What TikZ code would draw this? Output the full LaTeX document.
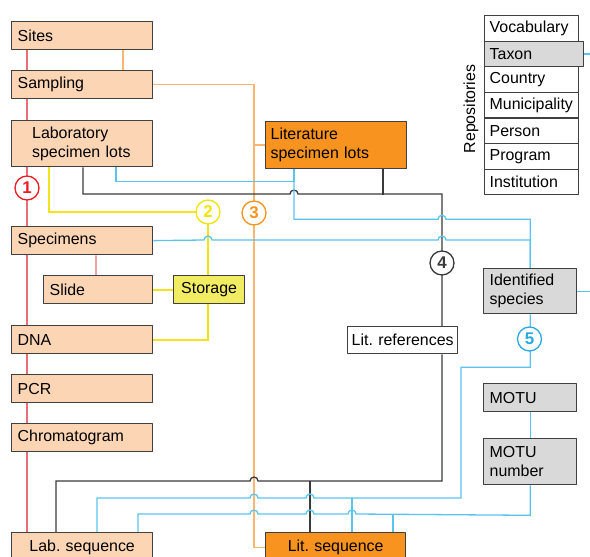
\documentclass[tikz,border=0pt]{standalone}
\usepackage{fontspec}
\setmainfont{Liberation Sans}
\usepackage{tikz}
\usetikzlibrary{backgrounds}
\frenchspacing

\definecolor{peach}{HTML}{FCD5B5}
\definecolor{litorange}{HTML}{F7931E}
\definecolor{storeyellow}{HTML}{F2EC63}
\definecolor{repogray}{HTML}{D9D9D9}
\definecolor{boxline}{HTML}{404040}
\definecolor{redline}{HTML}{EB6E76}
\definecolor{orangeline}{HTML}{F9B572}
\definecolor{yellowline}{HTML}{F2E31A}
\definecolor{blueline}{HTML}{5AC3EE}
\definecolor{blackline}{HTML}{3A3A3A}
\definecolor{numred}{HTML}{ED1C24}
\definecolor{numyellow}{HTML}{F2E500}
\definecolor{numorange}{HTML}{F7941D}
\definecolor{numblue}{HTML}{29ABE2}

\begin{document}
\begin{tikzpicture}[
		x = 1bp, y = -1bp, % one unit per pixel, y pointing down
		line join = round,
		font = \fontsize{16}{19.5}\selectfont
		]
		
		\tikzstyle{box}=[
		draw = boxline,
		line width = 1.3bp,
		anchor = north west,
		inner xsep = 6bp,
		inner ysep = 0bp,
		minimum height = 28bp,
		align = left
		]
		\tikzstyle{labbox}=[box, fill = peach, text width = 129bp]
		\tikzstyle{litbox}=[box, fill = litorange]
		\tikzstyle{greybox}=[box, fill = repogray, text width = 81bp]
		\tikzstyle{repobox}=[box, fill = white, inner xsep = 5bp, text width = 84bp, minimum height = 25.6bp]
		\tikzstyle{num}=[
		circle,
		fill = white,
		line width = 1.3bp,
		minimum size = 24bp,
		inner sep = 0bp,
		font = \fontsize{17}{17}\selectfont\bfseries
		]
		\tikzstyle{link}=[line width = 1.3bp]
		\tikzstyle{redlink}=[link, draw = redline]
		\tikzstyle{oralink}=[link, draw = orangeline]
		\tikzstyle{yellink}=[link, draw = yellowline, line width = 1.8bp]
		\tikzstyle{blulink}=[link, draw = blueline]
		\tikzstyle{blklink}=[link, draw = blackline]
		
		\useasboundingbox (0,0) rectangle (590,557);
		\clip (0,0) rectangle (590,557);
		\coordinate (edge) at (590,0);
		
		% laboratory side
		\node[labbox] (sites) at (11,21) {Sites};
		\node[labbox] (sampling) at (11,70) {Sampling};
		\node[labbox, text width = 100bp, minimum width = 141bp, minimum height = 46bp] (lablots) at (11,120) {Laboratory\\specimen lots};
		\node[labbox] (specimens) at (11,226) {Specimens};
		\node[labbox, text width = 97bp] (slide) at (43,275) {Slide};
		\node[box, fill = storeyellow, text width = 59bp, align = center] (storage) at (173,275) {Storage};
		\node[labbox] (dna) at (11,325) {DNA};
		\node[labbox] (pcr) at (11,374) {PCR};
		\node[labbox] (chromato) at (11,423) {Chromatogram};
		\node[labbox, align = center, minimum height = 30bp] (labseq) at (11,532) {Lab. sequence};
		
		% literature side
		\node[litbox, inner xsep = 5bp, text width = 131bp, minimum height = 47bp] (litlots) at (265,121) {Literature\\specimen lots};
		\node[box, fill = white, inner xsep = 2bp, text width = 106bp, align = center, minimum height = 27bp] (litrefs) at (347,326) {Lit. references};
		\node[litbox, text width = 128bp, align = center, minimum height = 30bp] (litseq) at (265,532) {Lit. sequence};
		
		% species side
		\node[greybox, minimum height = 45bp] (idspecies) at (483,268) {Identified\\species};
		\node[greybox] (motu) at (483,383) {MOTU};
		\node[greybox, minimum height = 46bp] (motunum) at (483,438) {MOTU\\number};
		
		% repositories
		\node[rotate = 90] (repolabel) at (471,109) {Repositories};
		\node[repobox] (vocab) at (484,15) {Vocabulary};
		\node[repobox] (country) at (484,66.2) {Country};
		\node[repobox] (municip) at (484,91.8) {Municipality};
		\node[repobox] (person) at (484,117.4) {Person};
		\node[repobox] (program) at (484,143) {Program};
		\node[repobox] (institution) at (484,168.6) {Institution};
		\node[repobox, fill = repogray, text width = 89bp] (taxon) at (484,40.6) {Taxon};
		
		% numbered links
		\node[num, draw = numred, text = numred] (n1) at (27,188) {1};
		\node[num, draw = numyellow, text = numyellow] (n2) at (208,212) {2};
		\node[num, draw = numorange, text = numorange] (n3) at (254,213) {3};
		\node[num, draw = blackline, text = blackline] (n4) at (442,263) {4};
		\node[num, draw = numblue, text = numblue] (n5) at (529.5,339) {5};
		
		\begin{scope}[on background layer]
		% red
		\draw[redlink] (sites.south -| n1) -- (labseq.north -| n1);
		\draw[redlink] ([xshift=85bp]specimens.south west) -- ([xshift=53bp]slide.north west);
		
		% orange
		\draw[oralink] ([xshift=112bp]sites.south west) -- ([xshift=112bp]sampling.north west);
		\draw[oralink] (sampling.east) -| (n3.center) |- (litseq.west);
		\draw[oralink] (litlots.west -| n3) -- (litlots.west);
		
		% yellow
		\draw[yellink] ([xshift=38bp]lablots.south west) |- (n2.center);
		\draw[yellink] (n2.center) -- (storage.north -| n2);
		\draw[yellink] (storage.west) -- (slide.east);
		\draw[yellink] (storage.south -| n2) |- (dna.east);
		
		% black
		\draw[blklink] ([xshift=72bp]lablots.south west) |- (290,194) arc[start angle=180, end angle=0, radius=4bp] -| (n4.center) -- (litrefs.north -| n4);
		\draw[blklink] ([xshift=118bp]litlots.south west) -- ++(0,26);
		\draw[blklink] (litrefs.south -| n4) |- (258,481) arc[start angle=0, end angle=180, radius=4bp] -| ([xshift=45bp]labseq.north west);
		\draw[blklink] ([xshift=45bp]litseq.north west) -- ++(0,-51);
		
		% blue
		\draw[blulink] ([xshift=105bp]lablots.south west) -- ++(0,14) -| ([xshift=29bp]litlots.south west);
		\draw[blulink] ([xshift=29bp]litlots.south west) -- ++(0,50) -- ++(144,0) arc[start angle=180, end angle=0, radius=4bp] -| (idspecies.north);
		\draw[blulink] (specimens.east) -- (204,240) arc[start angle=180, end angle=0, radius=4bp] -- (438,240) arc[start angle=180, end angle=0, radius=4bp] -| (idspecies.north);
		\draw[blulink] (taxon.east) -- (taxon.east -| edge);
		\draw[blulink] (idspecies.east) -- (idspecies.east -| edge);
		\draw[blulink] (idspecies.south) -- ++(0,53) -| (461,498) -- (314,498) arc[start angle=0, end angle=180, radius=4bp] -- (258,498) arc[start angle=0, end angle=180, radius=4bp] -| ([xshift=86bp]labseq.north west);
		\draw[blulink] ([xshift=87bp]litseq.north west) -- ++(0,-34);
		\draw[blulink] (motu.south) -- (motunum.north);
		\draw[blulink] (motunum.south) -- ++(0,30) -- (356,514) arc[start angle=0, end angle=180, radius=4bp] -- (314,514) arc[start angle=0, end angle=180, radius=4bp] -- (258,514) arc[start angle=0, end angle=180, radius=4bp] -| ([xshift=127bp]labseq.north west);
		\draw[blulink] ([xshift=128bp]litseq.north west) -- ++(0,-18);
		\end{scope}
		\end{tikzpicture}
\end{document}
